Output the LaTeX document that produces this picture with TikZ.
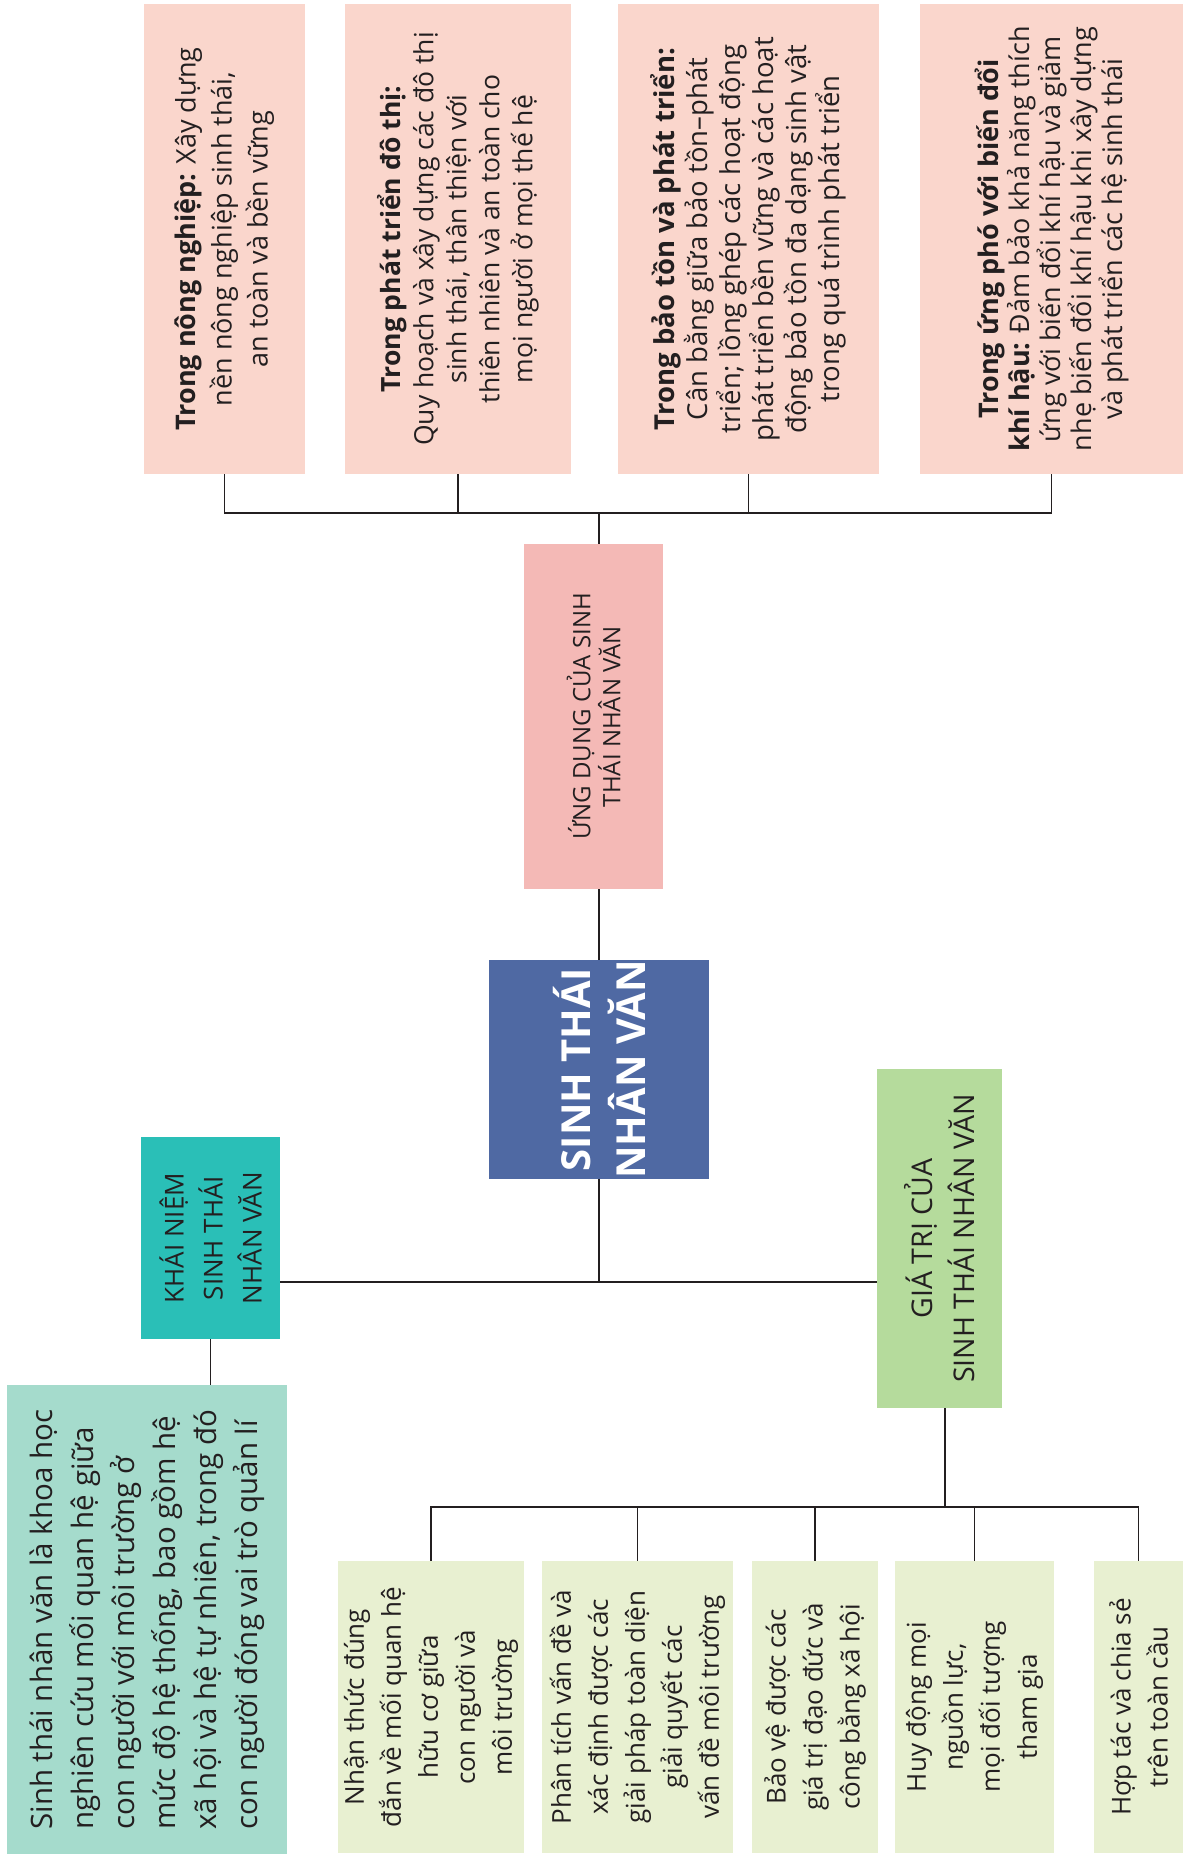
\documentclass[tikz,border=0pt]{standalone}
\usepackage{fontspec}
\setmainfont{Open Sans}
\newcommand{\fsz}[2]{\fontsize{#1}{#2}\selectfont}
\definecolor{toppink}{HTML}{FAD6CC}
\definecolor{udpink}{HTML}{F4B9B6}
\definecolor{cblue}{HTML}{4F69A3}
\definecolor{teal}{HTML}{2ABFB7}
\definecolor{mint}{HTML}{A5DBCC}
\definecolor{lgreen}{HTML}{B5DB9C}
\definecolor{pale}{HTML}{E8F0D1}
\definecolor{txt}{HTML}{231F20}
\begin{document}
\begin{tikzpicture}[x=1pt,y=-1pt,
  box/.style={rotate=90, inner sep=0pt, align=center, text=txt},
  ln/.style={line width=1.3pt, draw=txt}]
\useasboundingbox (0,0) rectangle (1183,1856);
% top row
\node[box, fill=toppink, minimum width=470pt, minimum height=161pt, font=\fsz{27}{36}] (t1) at (224.5,239)
 {\textbf{Trong nông nghiệp:} Xây dựng\\ nền nông nghiệp sinh thái,\\ an toàn và bền vững};
\node[box, fill=toppink, minimum width=470pt, minimum height=226pt, font=\fsz{26.5}{33}] (t2) at (458,239)
 {\textbf{Trong phát triển đô thị:}\\ Quy hoạch và xây dựng các đô thị\\ sinh thái, thân thiện với\\ thiên nhiên và an toàn cho\\ mọi người ở mọi thế hệ};
\node[box, fill=toppink, minimum width=470pt, minimum height=261pt, font=\fsz{27.5}{33}] (t3) at (748.5,239)
 {\textbf{Trong bảo tồn và phát triển:}\\ Cân bằng giữa bảo tồn–phát\\ triển; lồng ghép các hoạt động\\ phát triển bền vững và các hoạt\\ động bảo tồn đa dạng sinh vật\\ trong quá trình phát triển};
\node[box, fill=toppink, minimum width=470pt, minimum height=263pt, font=\fsz{27}{31}] (t4) at (1051.5,239)
 {\textbf{Trong ứng phó với biến đổi}\\ \textbf{khí hậu:} Đảm bảo khả năng thích\\ ứng với biến đổi khí hậu và giảm\\ nhẹ biến đổi khí hậu khi xây dựng\\ và phát triển các hệ sinh thái};
% middle
\node[box, fill=udpink, minimum width=345pt, minimum height=139pt, font=\fsz{24}{30}] (ud) at (593.5,716.5)
 {ỨNG DỤNG CỦA SINH\\ THÁI NHÂN VĂN};
\node[box, fill=cblue, text=white, minimum width=217pt, minimum height=220pt, font=\fsz{40}{55}\bfseries] (c) at (599,1069.5)
 {SINH THÁI\\ NHÂN VĂN};
\node[box, fill=teal, minimum width=202pt, minimum height=139pt, font=\fsz{26}{39}] (kn) at (210.5,1238)
 {KHÁI NIỆM\\ SINH THÁI\\ NHÂN VĂN};
\node[box, fill=lgreen, minimum width=339pt, minimum height=125pt, font=\fsz{28.5}{42}] (gt) at (939.5,1238.5)
 {GIÁ TRỊ CỦA\\ SINH THÁI NHÂN VĂN};
\node[box, align=left, fill=mint, minimum width=469pt, minimum height=280pt, font=\fsz{29.5}{41}] (df) at (147,1619.5)
 {Sinh thái nhân văn là khoa học\\ nghiên cứu mối quan hệ giữa\\ con người với môi trường ở\\ mức độ hệ thống, bao gồm hệ\\ xã hội và hệ tự nhiên, trong đó\\ con người đóng vai trò quản lí};
% bottom row
\node[box, fill=pale, minimum width=292pt, minimum height=186pt, font=\fsz{26}{37}] (b1) at (431,1707)
 {Nhận thức đúng\\ đắn về mối quan hệ\\ hữu cơ giữa\\ con người và\\ môi trường};
\node[box, fill=pale, minimum width=292pt, minimum height=191pt, font=\fsz{26}{37}] (b2) at (637.5,1707)
 {Phân tích vấn đề và\\ xác định được các\\ giải pháp toàn diện\\ giải quyết các\\ vấn đề môi trường};
\node[box, fill=pale, minimum width=292pt, minimum height=126pt, font=\fsz{26}{37}] (b3) at (815,1707)
 {Bảo vệ được các\\ giá trị đạo đức và\\ công bằng xã hội};
\node[box, fill=pale, minimum width=292pt, minimum height=159pt, font=\fsz{26}{37}] (b4) at (974.5,1707)
 {Huy động mọi\\ nguồn lực,\\ mọi đối tượng\\ tham gia};
\node[box, fill=pale, minimum width=292pt, minimum height=89pt, font=\fsz{26}{37}] (b5) at (1138.5,1707)
 {Hợp tác và chia sẻ\\ trên toàn cầu};
% connectors
\coordinate (brT) at (599,513);
\coordinate (hm) at (599,1282);
\coordinate (brB) at (945,1507);
\draw[ln] (t1.west) -- (t1.west |- brT) -- (t4.west |- brT) -- (t4.west);
\draw[ln] (t2.west) -- (t2.west |- brT);
\draw[ln] (t3.west) -- (t3.west |- brT);
\draw[ln] (brT) -- (brT |- ud.east);
\draw[ln] (brT |- ud.west) -- (c.east);
\draw[ln] (c.west) -- (hm);
\draw[ln] (kn.south |- hm) -- (gt.north |- hm);
\draw[ln] (kn.west) -- (kn.west |- df.east);
\draw[ln] (brB |- gt.west) -- (brB);
\draw[ln] (b1.east) -- (b1.east |- brB) -- (b5.east |- brB) -- (b5.east);
\draw[ln] (b2.east) -- (b2.east |- brB);
\draw[ln] (b3.east) -- (b3.east |- brB);
\draw[ln] (b4.east) -- (b4.east |- brB);
\end{tikzpicture}
\end{document}
